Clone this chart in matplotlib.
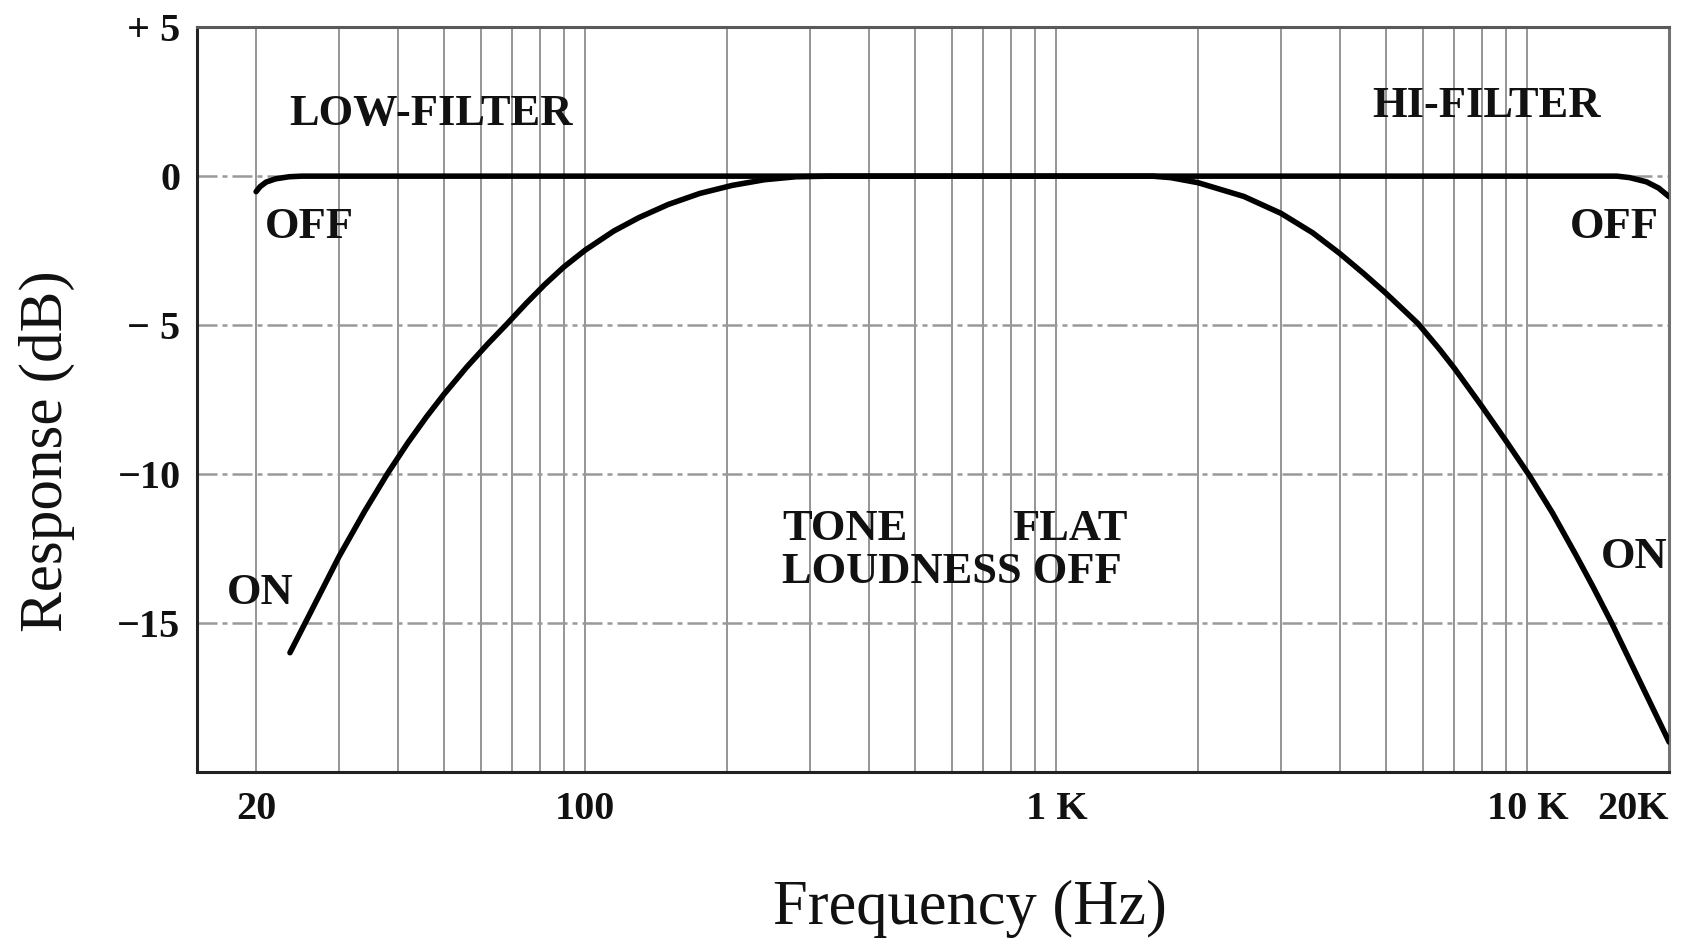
import numpy as np
import matplotlib.pyplot as plt
from matplotlib.ticker import FixedLocator, NullFormatter

# Frequency response data
on_freq = [23.6, 25.5, 28, 30, 34, 38, 42, 46, 50, 56, 62, 68, 75, 82, 90, 100, 115, 130, 150,
           175, 205, 240, 280, 330, 1000, 1600, 1750, 2000, 2500, 3000, 3500, 4000, 4500, 5000,
           5860, 6500, 7000, 8000, 9000, 10100, 11300, 12660, 13800, 15100, 17500, 20000]
on_db = [-16.0, -14.96, -13.7, -12.77, -11.25, -9.99, -8.95, -8.08, -7.34, -6.41, -5.64, -4.98,
         -4.26, -3.64, -3.05, -2.48, -1.84, -1.39, -0.95, -0.58, -0.31, -0.12, -0.02, 0, 0, 0,
         -0.05, -0.22, -0.68, -1.25, -1.9, -2.6, -3.28, -3.92, -4.95, -5.8, -6.45, -7.72, -8.88,
         -10.05, -11.3, -12.7, -13.8, -15.0, -17.1, -19.0]

off_freq = [20, 20.4, 21, 22, 23.5, 25, 15500, 16500, 17900, 19000, 20000]
off_db = [-0.52, -0.35, -0.2, -0.09, -0.02, 0, 0, -0.05, -0.19, -0.4, -0.69]

x_ticks = [20, 100, 1000, 10000, 20000]
x_labels = ['20', '100', '1 K', '10 K', '20K']
y_ticks = [5, 0, -5, -10, -15]
y_labels = ['+ 5', '0', '\u2212 5', '\u221210', '\u221215']
minor_x = [30, 40, 50, 60, 70, 80, 90,
           200, 300, 400, 500, 600, 700, 800, 900,
           2000, 3000, 4000, 5000, 6000, 7000, 8000, 9000]

plt.rcParams['font.family'] = ['Liberation Serif', 'DejaVu Serif']

fig = plt.figure(figsize=(16.86, 9.39), dpi=100)
ax = fig.add_axes([0.117, 0.178, 0.873, 0.793])

ax.set_xscale('log')
ax.set_xlim(15, 20000)
ax.set_ylim(-20, 5)

# grid
ax.xaxis.set_major_locator(FixedLocator(x_ticks))
ax.xaxis.set_minor_locator(FixedLocator(minor_x))
ax.xaxis.set_minor_formatter(NullFormatter())
ax.set_xticklabels(x_labels, fontweight='bold')
ax.set_yticks(y_ticks)
ax.set_yticklabels(y_labels, fontweight='bold')
for xv in x_ticks + minor_x:
    ax.axvline(xv, color='0.55', lw=1.3, zorder=1)
for yv in [0, -5, -10, -15]:
    ax.axhline(yv, color='0.6', lw=1.8, ls=(0, (8, 2, 2, 2)), zorder=1)

# curves
ax.plot(on_freq, on_db, color='black', lw=4, solid_capstyle='round', solid_joinstyle='round', zorder=3)
ax.plot(off_freq, off_db, color='black', lw=4, solid_capstyle='round', solid_joinstyle='round', zorder=3)

# annotations
tkw = dict(fontsize=32, fontweight='bold', color='#111111', zorder=4)
ax.text(23.5, 2.1, 'LOW-FILTER', ha='left', va='center', **tkw)
ax.text(4690, 2.35, 'HI-FILTER', ha='left', va='center', **tkw)
ax.text(20.9, -1.7, 'OFF', ha='left', va='center', **tkw)
ax.text(19000, -1.7, 'OFF', ha='right', va='center', **tkw)
ax.text(17.3, -14.0, 'ON', ha='left', va='center', **tkw)
ax.text(14300, -12.8, 'ON', ha='left', va='center', **tkw)
ax.text(262, -11.85, 'TONE', ha='left', va='center', **tkw)
ax.text(805, -11.85, 'FLAT', ha='left', va='center', **tkw)
ax.text(262, -13.3, 'LOUDNESS OFF', ha='left', va='center', **tkw)

# axes style
for s in ax.spines.values():
    s.set_linewidth(2.2)
    s.set_color('#222222')
ax.spines['top'].set_color('0.35')
ax.spines['right'].set_color('0.45')
ax.tick_params(axis='both', which='both', length=0, labelsize=29, colors='#111111')
ax.tick_params(axis='x', pad=14)
ax.tick_params(axis='y', pad=12)
ax.get_xticklabels()[-1].set_horizontalalignment('right')

ax.set_xlabel('Frequency (Hz)', fontsize=45, color='#111111')
ax.xaxis.set_label_coords(0.525, -0.145)
ax.set_ylabel('Response (dB)', fontsize=44, color='#111111')
ax.yaxis.set_label_coords(-0.083, 0.43)

fig.savefig('out.png', dpi=100)
